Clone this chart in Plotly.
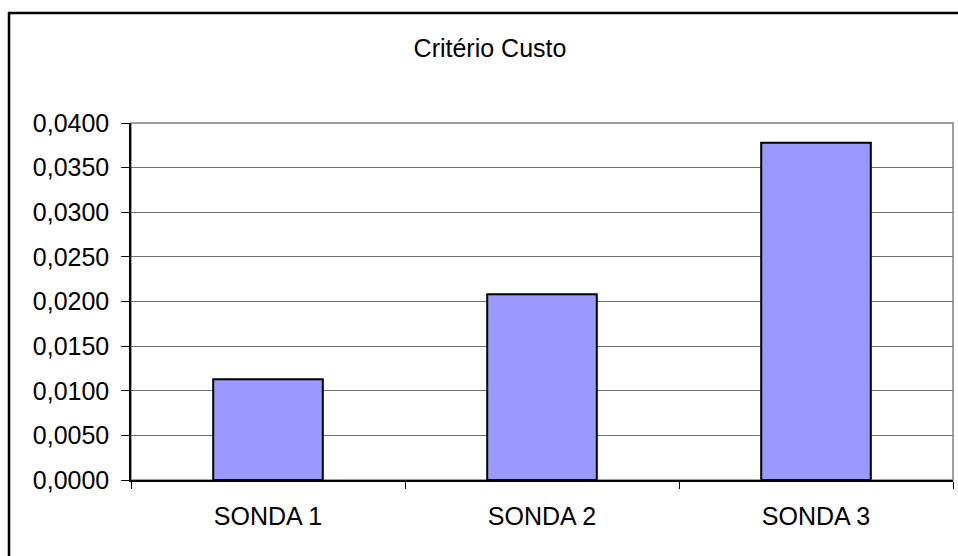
import plotly.graph_objects as go

categories = ["SONDA 1", "SONDA 2", "SONDA 3"]
values = [0.0113, 0.0208, 0.0378]
title_text = "Critério Custo"

W, H = 958, 556
L, R, T, B = 131, 5, 123, 76
pw = W - L - R
ph = H - T - B

def px_to_paper_x(px):
    return (px - L) / pw

def px_to_paper_y(py):
    return (H - B - py) / ph

font_family = "Liberation Sans, Arial, sans-serif"

fig = go.Figure(
    go.Bar(
        x=categories,
        y=values,
        marker=dict(color="#9999FF", line=dict(color="black", width=2)),
    )
)

fig.update_layout(
    width=W,
    height=H,
    margin=dict(l=L, r=R, t=T, b=B),
    paper_bgcolor="white",
    plot_bgcolor="white",
    separators=",.",
    bargap=0.6,
    showlegend=False,
    font=dict(family=font_family, size=25, color="black"),
    title=dict(
        text=title_text,
        x=490 / W,
        xref="container",
        xanchor="center",
        y=1 - 48 / H,
        yref="container",
        yanchor="middle",
        font=dict(family=font_family, size=25, color="black"),
    ),
    shapes=[
        dict(
            type="rect", xref="paper", yref="paper",
            x0=0, x1=1, y0=0, y1=1,
            line=dict(color="#808080", width=1.5), layer="below",
        ),
        dict(
            type="rect", xref="paper", yref="paper",
            x0=px_to_paper_x(9), x1=px_to_paper_x(990),
            y0=px_to_paper_y(600), y1=px_to_paper_y(13),
            line=dict(color="black", width=2.5), layer="below",
        ),
    ],
)

fig.update_yaxes(
    range=[0, 0.04],
    dtick=0.005,
    tick0=0,
    tickformat=".4f",
    showgrid=True,
    gridcolor="#6e6e6e",
    gridwidth=1,
    zeroline=False,
    showline=True,
    linecolor="black",
    linewidth=1.5,
    ticks="outside",
    ticklen=8,
    tickcolor="black",
    ticklabelstandoff=7,
    tickfont=dict(family=font_family, size=25, color="black"),
)

fig.update_xaxes(
    showgrid=False,
    showline=True,
    linecolor="black",
    linewidth=1.5,
    ticks="outside",
    tickson="boundaries",
    ticklen=7,
    tickcolor="black",
    ticklabelstandoff=13,
    tickfont=dict(family=font_family, size=25, color="black"),
)

fig.write_html("out.html")
